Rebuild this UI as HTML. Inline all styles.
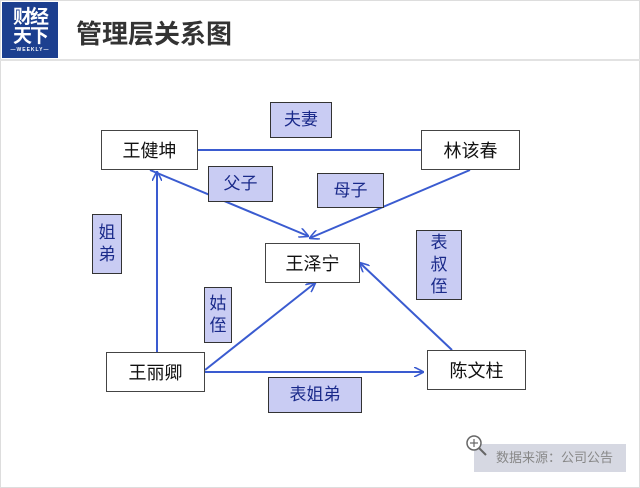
<!DOCTYPE html>
<html><head><meta charset="utf-8"><style>
body{margin:0;width:640px;height:488px;background:#fff;position:relative;overflow:hidden;font-family:"Liberation Sans","Noto Sans CJK SC",sans-serif}
.frame{position:absolute;left:0;top:0;width:638px;height:486px;border:1px solid #ddd}
.hdr{position:absolute;left:0;top:0;width:640px;height:59px;border-bottom:2px solid #e2e2e2}
.logo{position:absolute;left:2px;top:2px;width:56px;height:56px;background:#1c3f8f;color:#fff;font-weight:bold;font-size:19px;line-height:19px;text-align:center;padding-top:6px;box-sizing:border-box;letter-spacing:-2px}
.title{position:absolute;left:76px;top:14px;font-size:26px;font-weight:bold;color:#333}
.n{position:absolute;background:#fff;border:1px solid #444;font-size:18px;color:#111;display:flex;align-items:center;justify-content:center;box-sizing:border-box}
.l{position:absolute;background:#c9ccf3;border:1px solid #333;font-size:17px;color:#1a2a8a;display:flex;align-items:center;justify-content:center;box-sizing:border-box;text-align:center;line-height:22px}
.src{position:absolute;left:474px;top:444px;width:152px;height:28px;background:#d6d8e2;color:#888;font-size:13px;line-height:28px;padding-left:22px;box-sizing:border-box}
</style></head><body>
<div class="frame"></div>
<div class="hdr"></div>
<div class="logo">财经<br>天下<div style="font-size:5px;line-height:8px;letter-spacing:1px">—WEEKLY—</div></div>
<div class="title">管理层关系图</div>
<svg width="640" height="488" style="position:absolute;left:0;top:0">
<defs><marker id="a" markerWidth="10" markerHeight="10" refX="9" refY="5" orient="auto" markerUnits="userSpaceOnUse"><path d="M0,0 L10,5 L0,10" fill="none" stroke="#3a5bd0" stroke-width="1.6"/></marker></defs>
<g stroke="#3a5bd0" stroke-width="2" fill="none">
<line x1="198" y1="150" x2="421" y2="150"/>
<line x1="150" y1="170" x2="308" y2="236" marker-end="url(#a)"/>
<line x1="470" y1="170" x2="310" y2="238" marker-end="url(#a)"/>
<line x1="157" y1="352" x2="157" y2="172" marker-end="url(#a)"/>
<line x1="205" y1="370" x2="315" y2="283" marker-end="url(#a)"/>
<line x1="205" y1="372" x2="423" y2="372" marker-end="url(#a)"/>
<line x1="452" y1="350" x2="360" y2="263" marker-end="url(#a)"/>
</g>
</svg>
<div class="src">数据来源：公司公告</div>
<svg width="640" height="488" style="position:absolute;left:0;top:0">
<circle cx="474" cy="443" r="7" fill="#fff" stroke="#666" stroke-width="1.5"/>
<line x1="479" y1="448" x2="486" y2="455" stroke="#666" stroke-width="2"/>
<line x1="470" y1="443" x2="478" y2="443" stroke="#666" stroke-width="1.2"/>
<line x1="474" y1="439" x2="474" y2="447" stroke="#666" stroke-width="1.2"/>
</svg>
<div class="n" style="left:101px;top:130px;width:97px;height:40px">王健坤</div>
<div class="n" style="left:421px;top:130px;width:99px;height:40px">林该春</div>
<div class="n" style="left:265px;top:243px;width:95px;height:40px">王泽宁</div>
<div class="n" style="left:106px;top:352px;width:99px;height:40px">王丽卿</div>
<div class="n" style="left:427px;top:350px;width:99px;height:40px">陈文柱</div>
<div class="l" style="left:270px;top:102px;width:62px;height:36px">夫妻</div>
<div class="l" style="left:208px;top:166px;width:65px;height:36px">父子</div>
<div class="l" style="left:317px;top:173px;width:67px;height:35px">母子</div>
<div class="l" style="left:92px;top:214px;width:30px;height:60px">姐<br>弟</div>
<div class="l" style="left:416px;top:230px;width:46px;height:70px">表<br>叔<br>侄</div>
<div class="l" style="left:204px;top:287px;width:28px;height:56px">姑<br>侄</div>
<div class="l" style="left:268px;top:377px;width:94px;height:36px">表姐弟</div>
</body></html>
